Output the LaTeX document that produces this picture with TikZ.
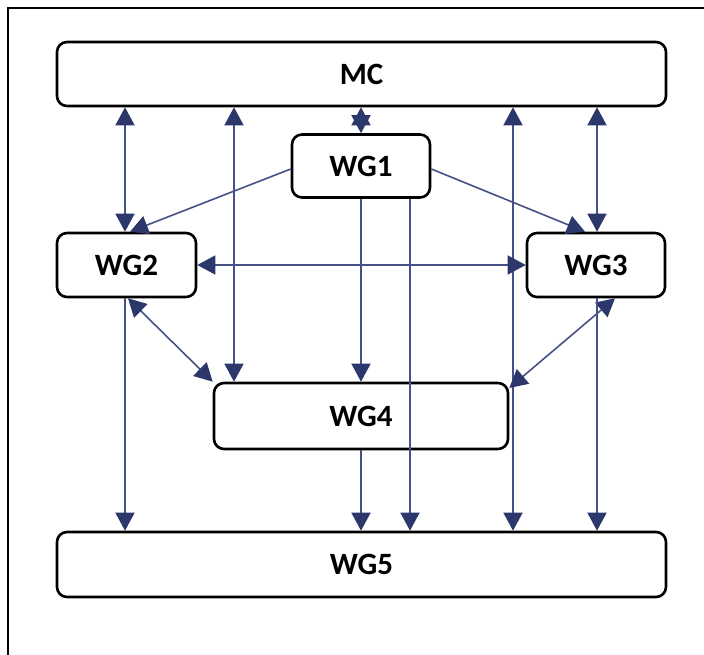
\documentclass[tikz,border=0pt]{standalone}
\usepackage{fontspec}
\setmainfont{Carlito}
\usetikzlibrary{arrows.meta}
\definecolor{navy}{RGB}{44,56,108}
\definecolor{navyline}{RGB}{70,82,135}
\tikzset{
  box/.style={draw=black, line width=2.6pt, rounded corners=10pt, fill=white,
    inner sep=0pt, font=\fontsize{31}{33}\selectfont\bfseries},
  conn/.style={draw=navyline, line width=1.6pt},
  one/.style={conn, -{Triangle[length=18pt,width=19pt,color=navy]}},
  two/.style={conn, {Triangle[length=18pt,width=19pt,color=navy]}-{Triangle[length=18pt,width=19pt,color=navy]}},
  frame/.style={draw=black, line width=2pt}
}
\begin{document}
\begin{tikzpicture}[x=1pt,y=-1pt]
\useasboundingbox (0,0) rectangle (704,655);
\fill[white] (0,0) rectangle (704,655);
\coordinate (ftop) at (704,8);
\coordinate (fcorner) at (8,8);
\coordinate (fbot) at (8,655);
\draw[frame] (ftop) -- (fcorner) -- (fbot);

\node[box, minimum width=609pt, minimum height=64pt, text depth=-3pt] (MC) at (361.5,74) {MC};
\node[box, minimum width=138pt, minimum height=63pt, text depth=-3pt] (WG1) at (361,166) {WG1};
\node[box, minimum width=139pt, minimum height=64pt, text depth=-3pt] (WG2) at (126.5,265) {WG2};
\node[box, minimum width=138pt, minimum height=64pt, text depth=-3pt] (WG3) at (596,265) {WG3};
\node[box, minimum width=294pt, minimum height=66pt, text depth=-3pt] (WG4) at (361,416) {WG4};
\node[box, minimum width=609pt, minimum height=65pt, text depth=-3pt] (WG5) at (361.5,564.5) {WG5};

% MC connections
\draw[two] (MC.south -| 125,0) -- (WG2.north -| 125,0);
\draw[two] (MC.south -| 234,0) -- (WG4.north -| 234,0);
\draw[two] (MC.south -| 361,0) -- (WG1.north -| 361,0);
\draw[two] (MC.south -| 513,0) -- (WG5.north -| 513,0);
\draw[two] (MC.south -| 597,0) -- (WG3.north -| 597,0);

% WG1 connections
\draw[one] (WG1.west |- 0,169) -- (WG2.north -| 130,0);
\draw[one] (WG1.east |- 0,169) -- (WG3.north -| 585,0);
\draw[one] (WG1.south -| 361,0) -- (WG4.north -| 361,0);
\draw[one] (WG1.south -| 410,0) -- (WG5.north -| 410,0);

% WG2 / WG3
\draw[two] (WG2.east |- 0,265) -- (WG3.west |- 0,265);
\draw[two] (WG2.south -| 128,0) -- (WG4.north west);
\draw[two] (WG3.south -| 615,0) -- (WG4.east |- 0,388);

% to WG5
\draw[one] (WG2.south -| 125,0) -- (WG5.north -| 125,0);
\draw[one] (WG4.south -| 361,0) -- (WG5.north -| 361,0);
\draw[one] (WG3.south -| 597,0) -- (WG5.north -| 597,0);
\end{tikzpicture}
\end{document}
